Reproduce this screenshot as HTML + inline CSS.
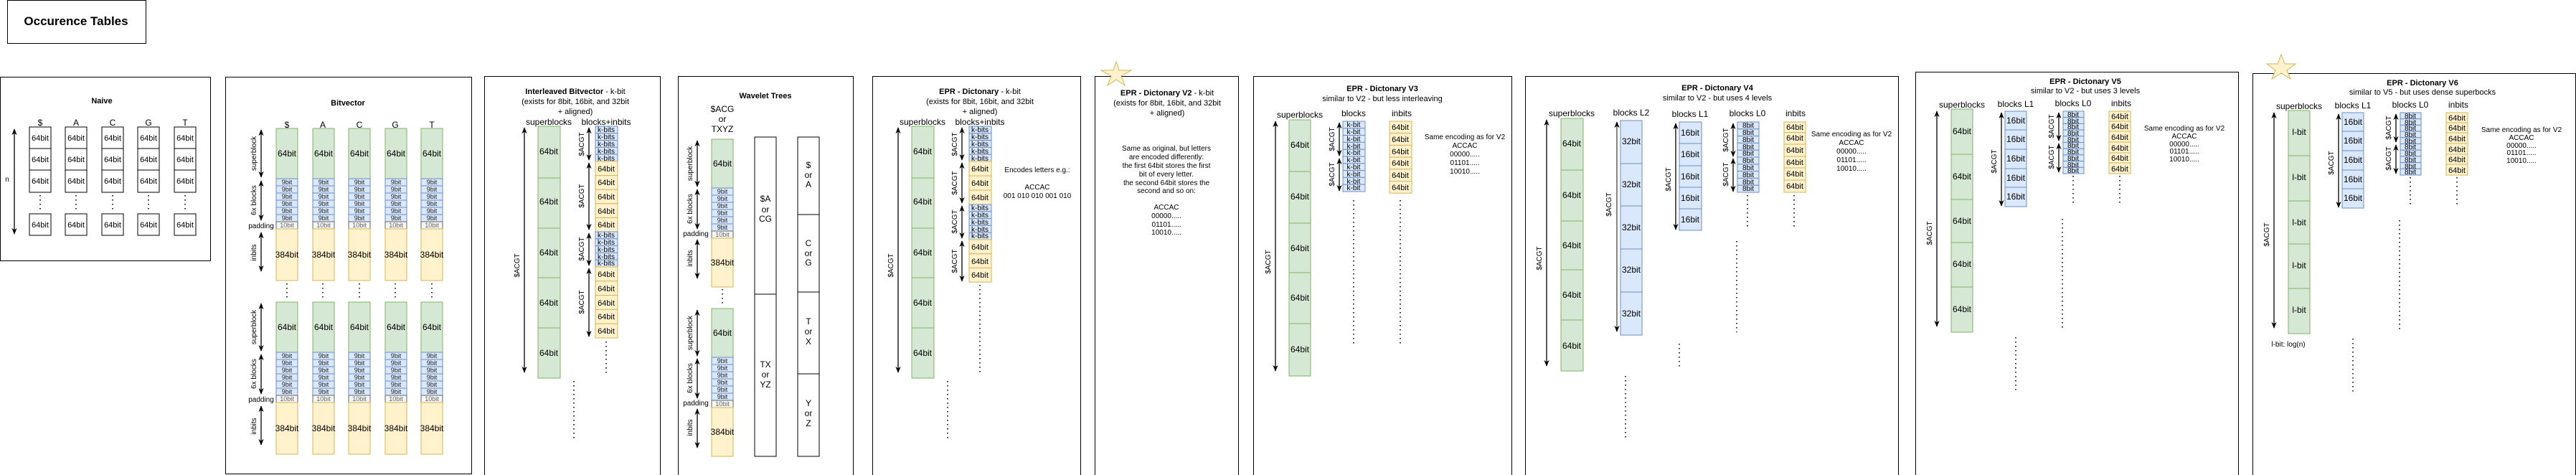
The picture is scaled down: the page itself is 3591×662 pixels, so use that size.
<!DOCTYPE html>
<html><head><meta charset="utf-8"><style>
html,body{margin:0;padding:0;background:#fff;}
svg{display:block;font-family:"Liberation Sans",Arial,sans-serif;}
.g{fill:#d5e8d4;stroke:#82b366;stroke-width:1}
.b{fill:#dae8fc;stroke:#6c8ebf;stroke-width:1}
.y{fill:#fff2cc;stroke:#d6b656;stroke-width:1}
.p{fill:#f5f5f5;stroke:#666;stroke-width:1}
.w{fill:#fff;stroke:#000;stroke-width:1}
.pn{fill:#fff;stroke:#000;stroke-width:1}
text{fill:#000;text-anchor:middle;}
.t12{font-size:12px}.t9{font-size:9px;fill:#222}.t10{font-size:10px}.t11{font-size:11px}
.bt{font-size:11px;font-weight:bold}
.ar{stroke:#000;stroke-width:1.3;fill:none;marker-start:url(#ma);marker-end:url(#ma)}
.dt{stroke:#000;stroke-width:1.6;stroke-dasharray:1.5 4.5;fill:none}
</style></head><body>
<svg width="3591" height="662" viewBox="0 0 3591 662" xmlns="http://www.w3.org/2000/svg">
<defs><marker id="ma" viewBox="0 0 10 10" refX="9" refY="5" markerWidth="7" markerHeight="7" orient="auto-start-reverse"><path d="M0,1 L10,5 L0,9 L3,5 z" fill="#000"/></marker></defs>

<!-- title -->
<rect x="10.5" y="0.5" width="193" height="60" class="pn"/>
<text x="106" y="35" style="font-size:17px;font-weight:bold">Occurence Tables</text>

<!-- NAIVE -->
<rect x="0.5" y="107.5" width="293" height="256" class="pn"/>
<text x="142" y="144" class="bt">Naive</text>
<line x1="20" y1="180" x2="20" y2="326" class="ar"/>
<text x="10" y="253" class="t10">n</text>
<g class="t12">
<text x="56" y="175">$</text><text x="106" y="175">A</text><text x="157" y="175">C</text><text x="207" y="175">G</text><text x="258" y="175">T</text>
</g>
<g>
<rect x="41" y="177" width="30" height="30" class="w"/><rect x="41" y="207" width="30" height="30" class="w"/><rect x="41" y="237" width="30" height="31" class="w"/><rect x="41" y="298" width="30" height="30" class="w"/>
<rect x="91" y="177" width="30" height="30" class="w"/><rect x="91" y="207" width="30" height="30" class="w"/><rect x="91" y="237" width="30" height="31" class="w"/><rect x="91" y="298" width="30" height="30" class="w"/>
<rect x="142" y="177" width="30" height="30" class="w"/><rect x="142" y="207" width="30" height="30" class="w"/><rect x="142" y="237" width="30" height="31" class="w"/><rect x="142" y="298" width="30" height="30" class="w"/>
<rect x="192" y="177" width="30" height="30" class="w"/><rect x="192" y="207" width="30" height="30" class="w"/><rect x="192" y="237" width="30" height="31" class="w"/><rect x="192" y="298" width="30" height="30" class="w"/>
<rect x="243" y="177" width="30" height="30" class="w"/><rect x="243" y="207" width="30" height="30" class="w"/><rect x="243" y="237" width="30" height="31" class="w"/><rect x="243" y="298" width="30" height="30" class="w"/>
</g>
<g class="t11">
<text x="56" y="196">64bit</text><text x="56" y="226">64bit</text><text x="56" y="256">64bit</text><text x="56" y="317">64bit</text>
<text x="106" y="196">64bit</text><text x="106" y="226">64bit</text><text x="106" y="256">64bit</text><text x="106" y="317">64bit</text>
<text x="157" y="196">64bit</text><text x="157" y="226">64bit</text><text x="157" y="256">64bit</text><text x="157" y="317">64bit</text>
<text x="207" y="196">64bit</text><text x="207" y="226">64bit</text><text x="207" y="256">64bit</text><text x="207" y="317">64bit</text>
<text x="258" y="196">64bit</text><text x="258" y="226">64bit</text><text x="258" y="256">64bit</text><text x="258" y="317">64bit</text>
</g>
<path d="M56,272V296M106,272V296M157,272V296M207,272V296M258,272V296" class="dt"/>

<!-- BITVECTOR -->
<rect x="314.5" y="107.5" width="343" height="553" class="pn"/>
<text x="485" y="147" class="bt">Bitvector</text>
<g class="t12"><text x="400" y="178">$</text><text x="450" y="178">A</text><text x="501" y="178">C</text><text x="551" y="178">G</text><text x="602" y="178">T</text></g>
<g id="bvlab">
<line x1="364" y1="181" x2="364" y2="247" class="ar"/><text transform="translate(357,214) rotate(-90)" class="t10">superblock</text>
<line x1="364" y1="252" x2="364" y2="307" class="ar"/><text transform="translate(357,279) rotate(-90)" class="t10">6x blocks</text>
<text x="364" y="318" class="t10">padding</text>
<line x1="364" y1="324" x2="364" y2="378" class="ar"/><text transform="translate(357,352) rotate(-90)" class="t10">inbits</text>
<line x1="364" y1="423" x2="364" y2="489" class="ar"/><text transform="translate(357,456) rotate(-90)" class="t10">superblock</text>
<line x1="364" y1="494" x2="364" y2="549" class="ar"/><text transform="translate(357,521) rotate(-90)" class="t10">6x blocks</text>
<text x="364" y="560" class="t10">padding</text>
<line x1="364" y1="566" x2="364" y2="620" class="ar"/><text transform="translate(357,594) rotate(-90)" class="t10">inbits</text>
</g>
<!-- column groups -->
<g transform="translate(385,179)"><rect class="g" width="30" height="70"/><text x="15" y="39" class="t12">64bit</text><rect class="b" y="70" width="30" height="10"/><rect class="b" y="80" width="30" height="10"/><rect class="b" y="90" width="30" height="10"/><rect class="b" y="100" width="30" height="10"/><rect class="b" y="110" width="30" height="10"/><rect class="b" y="120" width="30" height="10"/><rect class="p" y="130" width="30" height="10"/><rect class="y" y="140" width="30" height="72"/><text x="15" y="78" class="t9">9bit</text><text x="15" y="88" class="t9">9bit</text><text x="15" y="98" class="t9">9bit</text><text x="15" y="108" class="t9">9bit</text><text x="15" y="118" class="t9">9bit</text><text x="15" y="128" class="t9">9bit</text><text x="15" y="138" class="t9" style="fill:#666">10bit</text><text x="15" y="180" class="t12">384bit</text></g>
<g transform="translate(436,179)"><rect class="g" width="30" height="70"/><text x="15" y="39" class="t12">64bit</text><rect class="b" y="70" width="30" height="10"/><rect class="b" y="80" width="30" height="10"/><rect class="b" y="90" width="30" height="10"/><rect class="b" y="100" width="30" height="10"/><rect class="b" y="110" width="30" height="10"/><rect class="b" y="120" width="30" height="10"/><rect class="p" y="130" width="30" height="10"/><rect class="y" y="140" width="30" height="72"/><text x="15" y="78" class="t9">9bit</text><text x="15" y="88" class="t9">9bit</text><text x="15" y="98" class="t9">9bit</text><text x="15" y="108" class="t9">9bit</text><text x="15" y="118" class="t9">9bit</text><text x="15" y="128" class="t9">9bit</text><text x="15" y="138" class="t9" style="fill:#666">10bit</text><text x="15" y="180" class="t12">384bit</text></g>
<g transform="translate(486,179)"><rect class="g" width="30" height="70"/><text x="15" y="39" class="t12">64bit</text><rect class="b" y="70" width="30" height="10"/><rect class="b" y="80" width="30" height="10"/><rect class="b" y="90" width="30" height="10"/><rect class="b" y="100" width="30" height="10"/><rect class="b" y="110" width="30" height="10"/><rect class="b" y="120" width="30" height="10"/><rect class="p" y="130" width="30" height="10"/><rect class="y" y="140" width="30" height="72"/><text x="15" y="78" class="t9">9bit</text><text x="15" y="88" class="t9">9bit</text><text x="15" y="98" class="t9">9bit</text><text x="15" y="108" class="t9">9bit</text><text x="15" y="118" class="t9">9bit</text><text x="15" y="128" class="t9">9bit</text><text x="15" y="138" class="t9" style="fill:#666">10bit</text><text x="15" y="180" class="t12">384bit</text></g>
<g transform="translate(537,179)"><rect class="g" width="30" height="70"/><text x="15" y="39" class="t12">64bit</text><rect class="b" y="70" width="30" height="10"/><rect class="b" y="80" width="30" height="10"/><rect class="b" y="90" width="30" height="10"/><rect class="b" y="100" width="30" height="10"/><rect class="b" y="110" width="30" height="10"/><rect class="b" y="120" width="30" height="10"/><rect class="p" y="130" width="30" height="10"/><rect class="y" y="140" width="30" height="72"/><text x="15" y="78" class="t9">9bit</text><text x="15" y="88" class="t9">9bit</text><text x="15" y="98" class="t9">9bit</text><text x="15" y="108" class="t9">9bit</text><text x="15" y="118" class="t9">9bit</text><text x="15" y="128" class="t9">9bit</text><text x="15" y="138" class="t9" style="fill:#666">10bit</text><text x="15" y="180" class="t12">384bit</text></g>
<g transform="translate(587,179)"><rect class="g" width="30" height="70"/><text x="15" y="39" class="t12">64bit</text><rect class="b" y="70" width="30" height="10"/><rect class="b" y="80" width="30" height="10"/><rect class="b" y="90" width="30" height="10"/><rect class="b" y="100" width="30" height="10"/><rect class="b" y="110" width="30" height="10"/><rect class="b" y="120" width="30" height="10"/><rect class="p" y="130" width="30" height="10"/><rect class="y" y="140" width="30" height="72"/><text x="15" y="78" class="t9">9bit</text><text x="15" y="88" class="t9">9bit</text><text x="15" y="98" class="t9">9bit</text><text x="15" y="108" class="t9">9bit</text><text x="15" y="118" class="t9">9bit</text><text x="15" y="128" class="t9">9bit</text><text x="15" y="138" class="t9" style="fill:#666">10bit</text><text x="15" y="180" class="t12">384bit</text></g>
<g transform="translate(385,421)"><rect class="g" width="30" height="70"/><text x="15" y="39" class="t12">64bit</text><rect class="b" y="70" width="30" height="10"/><rect class="b" y="80" width="30" height="10"/><rect class="b" y="90" width="30" height="10"/><rect class="b" y="100" width="30" height="10"/><rect class="b" y="110" width="30" height="10"/><rect class="b" y="120" width="30" height="10"/><rect class="p" y="130" width="30" height="10"/><rect class="y" y="140" width="30" height="72"/><text x="15" y="78" class="t9">9bit</text><text x="15" y="88" class="t9">9bit</text><text x="15" y="98" class="t9">9bit</text><text x="15" y="108" class="t9">9bit</text><text x="15" y="118" class="t9">9bit</text><text x="15" y="128" class="t9">9bit</text><text x="15" y="138" class="t9" style="fill:#666">10bit</text><text x="15" y="180" class="t12">384bit</text></g>
<g transform="translate(436,421)"><rect class="g" width="30" height="70"/><text x="15" y="39" class="t12">64bit</text><rect class="b" y="70" width="30" height="10"/><rect class="b" y="80" width="30" height="10"/><rect class="b" y="90" width="30" height="10"/><rect class="b" y="100" width="30" height="10"/><rect class="b" y="110" width="30" height="10"/><rect class="b" y="120" width="30" height="10"/><rect class="p" y="130" width="30" height="10"/><rect class="y" y="140" width="30" height="72"/><text x="15" y="78" class="t9">9bit</text><text x="15" y="88" class="t9">9bit</text><text x="15" y="98" class="t9">9bit</text><text x="15" y="108" class="t9">9bit</text><text x="15" y="118" class="t9">9bit</text><text x="15" y="128" class="t9">9bit</text><text x="15" y="138" class="t9" style="fill:#666">10bit</text><text x="15" y="180" class="t12">384bit</text></g>
<g transform="translate(486,421)"><rect class="g" width="30" height="70"/><text x="15" y="39" class="t12">64bit</text><rect class="b" y="70" width="30" height="10"/><rect class="b" y="80" width="30" height="10"/><rect class="b" y="90" width="30" height="10"/><rect class="b" y="100" width="30" height="10"/><rect class="b" y="110" width="30" height="10"/><rect class="b" y="120" width="30" height="10"/><rect class="p" y="130" width="30" height="10"/><rect class="y" y="140" width="30" height="72"/><text x="15" y="78" class="t9">9bit</text><text x="15" y="88" class="t9">9bit</text><text x="15" y="98" class="t9">9bit</text><text x="15" y="108" class="t9">9bit</text><text x="15" y="118" class="t9">9bit</text><text x="15" y="128" class="t9">9bit</text><text x="15" y="138" class="t9" style="fill:#666">10bit</text><text x="15" y="180" class="t12">384bit</text></g>
<g transform="translate(537,421)"><rect class="g" width="30" height="70"/><text x="15" y="39" class="t12">64bit</text><rect class="b" y="70" width="30" height="10"/><rect class="b" y="80" width="30" height="10"/><rect class="b" y="90" width="30" height="10"/><rect class="b" y="100" width="30" height="10"/><rect class="b" y="110" width="30" height="10"/><rect class="b" y="120" width="30" height="10"/><rect class="p" y="130" width="30" height="10"/><rect class="y" y="140" width="30" height="72"/><text x="15" y="78" class="t9">9bit</text><text x="15" y="88" class="t9">9bit</text><text x="15" y="98" class="t9">9bit</text><text x="15" y="108" class="t9">9bit</text><text x="15" y="118" class="t9">9bit</text><text x="15" y="128" class="t9">9bit</text><text x="15" y="138" class="t9" style="fill:#666">10bit</text><text x="15" y="180" class="t12">384bit</text></g>
<g transform="translate(587,421)"><rect class="g" width="30" height="70"/><text x="15" y="39" class="t12">64bit</text><rect class="b" y="70" width="30" height="10"/><rect class="b" y="80" width="30" height="10"/><rect class="b" y="90" width="30" height="10"/><rect class="b" y="100" width="30" height="10"/><rect class="b" y="110" width="30" height="10"/><rect class="b" y="120" width="30" height="10"/><rect class="p" y="130" width="30" height="10"/><rect class="y" y="140" width="30" height="72"/><text x="15" y="78" class="t9">9bit</text><text x="15" y="88" class="t9">9bit</text><text x="15" y="98" class="t9">9bit</text><text x="15" y="108" class="t9">9bit</text><text x="15" y="118" class="t9">9bit</text><text x="15" y="128" class="t9">9bit</text><text x="15" y="138" class="t9" style="fill:#666">10bit</text><text x="15" y="180" class="t12">384bit</text></g>
<path d="M400,395V418M450,395V418M501,395V418M551,395V418M602,395V418" class="dt"/>

<!-- INTERLEAVED -->
<rect x="675.5" y="106.5" width="245" height="560" class="pn"/>
<text x="802" y="131" class="t11"><tspan font-weight="bold">Interleaved Bitvector</tspan> - k-bit</text>
<text x="802" y="145" class="t11">(exists for 8bit, 16bit, and 32bit</text>
<text x="802" y="159" class="t11">+ aligned)</text>
<text x="765" y="174" class="t12">superblocks</text><text x="845" y="174" class="t12">blocks+inbits</text>
<rect class="g" x="750" y="176" width="31" height="72"/><rect class="g" x="750" y="248" width="31" height="70"/><rect class="g" x="750" y="318" width="31" height="69"/><rect class="g" x="750" y="387" width="31" height="70"/><rect class="g" x="750" y="457" width="31" height="70"/>
<g class="t12"><text x="765" y="215">64bit</text><text x="765" y="285">64bit</text><text x="765" y="356">64bit</text><text x="765" y="426">64bit</text><text x="765" y="496">64bit</text></g>
<line x1="731" y1="178" x2="731" y2="519" class="ar"/><text transform="translate(724,370) rotate(-90)" class="t10">$ACGT</text>
<path d="M800,531V612" class="dt"/>
<g id="il">
<rect class="b" x="830" y="176" width="31" height="9.8"/><rect class="b" x="830" y="185.8" width="31" height="9.8"/><rect class="b" x="830" y="195.6" width="31" height="9.8"/><rect class="b" x="830" y="205.4" width="31" height="9.8"/><rect class="b" x="830" y="215.2" width="31" height="9.8"/>
<rect class="y" x="830" y="225" width="31" height="19.6"/><rect class="y" x="830" y="244.6" width="31" height="19.6"/><rect class="y" x="830" y="264.2" width="31" height="19.6"/><rect class="y" x="830" y="283.8" width="31" height="19.6"/><rect class="y" x="830" y="303.4" width="31" height="19.6"/>
<rect class="b" x="830" y="323" width="31" height="9.8"/><rect class="b" x="830" y="332.8" width="31" height="9.8"/><rect class="b" x="830" y="342.6" width="31" height="9.8"/><rect class="b" x="830" y="352.4" width="31" height="9.8"/><rect class="b" x="830" y="362.2" width="31" height="9.8"/>
<rect class="y" x="830" y="372" width="31" height="19.8"/><rect class="y" x="830" y="391.8" width="31" height="19.8"/><rect class="y" x="830" y="411.6" width="31" height="19.8"/><rect class="y" x="830" y="431.4" width="31" height="19.8"/><rect class="y" x="830" y="451.2" width="31" height="19.8"/>
</g>
<g class="t10"><text x="845" y="184">k-bits</text><text x="845" y="194">k-bits</text><text x="845" y="204">k-bits</text><text x="845" y="214">k-bits</text><text x="845" y="224">k-bits</text>
<text x="845" y="331">k-bits</text><text x="845" y="341">k-bits</text><text x="845" y="351">k-bits</text><text x="845" y="361">k-bits</text><text x="845" y="370">k-bits</text></g>
<g class="t11"><text x="845" y="239">64bit</text><text x="845" y="258">64bit</text><text x="845" y="278">64bit</text><text x="845" y="298">64bit</text><text x="845" y="317">64bit</text>
<text x="845" y="386">64bit</text><text x="845" y="406">64bit</text><text x="845" y="426">64bit</text><text x="845" y="445">64bit</text><text x="845" y="465">64bit</text></g>
<line x1="821" y1="178" x2="821" y2="223" class="ar"/><line x1="821" y1="227" x2="821" y2="320" class="ar"/><line x1="821" y1="325" x2="821" y2="370" class="ar"/><line x1="821" y1="374" x2="821" y2="469" class="ar"/>
<g class="t10"><text transform="translate(814,201) rotate(-90)">$ACGT</text><text transform="translate(814,273) rotate(-90)">$ACGT</text><text transform="translate(814,347) rotate(-90)">$ACGT</text><text transform="translate(814,421) rotate(-90)">$ACGT</text></g>
<path d="M845,476V522" class="dt"/>

<!-- WAVELET -->
<rect x="945.5" y="106.5" width="244" height="560" class="pn"/>
<text x="1067" y="137" class="bt">Wavelet Trees</text>
<g class="t12"><text x="1007" y="156">$ACG</text><text x="1007" y="170">or</text><text x="1007" y="184">TXYZ</text></g>
<g transform="translate(992,194)"><rect class="g" width="30" height="68"/><text x="15" y="38" class="t12">64bit</text><rect class="b" y="68" width="30" height="10"/><rect class="b" y="78" width="30" height="10"/><rect class="b" y="88" width="30" height="10"/><rect class="b" y="98" width="30" height="10"/><rect class="b" y="108" width="30" height="10"/><rect class="b" y="118" width="30" height="10"/><rect class="p" y="128" width="30" height="10"/><rect class="y" y="138" width="30" height="68"/><text x="15" y="76" class="t9">9bit</text><text x="15" y="86" class="t9">9bit</text><text x="15" y="96" class="t9">9bit</text><text x="15" y="106" class="t9">9bit</text><text x="15" y="116" class="t9">9bit</text><text x="15" y="126" class="t9">9bit</text><text x="15" y="136" class="t9" style="fill:#666">10bit</text><text x="15" y="176" class="t12">384bit</text></g>
<g transform="translate(992,430)"><rect class="g" width="30" height="68"/><text x="15" y="38" class="t12">64bit</text><rect class="b" y="68" width="30" height="10"/><rect class="b" y="78" width="30" height="10"/><rect class="b" y="88" width="30" height="10"/><rect class="b" y="98" width="30" height="10"/><rect class="b" y="108" width="30" height="10"/><rect class="b" y="118" width="30" height="10"/><rect class="p" y="128" width="30" height="10"/><rect class="y" y="138" width="30" height="68"/><text x="15" y="76" class="t9">9bit</text><text x="15" y="86" class="t9">9bit</text><text x="15" y="96" class="t9">9bit</text><text x="15" y="106" class="t9">9bit</text><text x="15" y="116" class="t9">9bit</text><text x="15" y="126" class="t9">9bit</text><text x="15" y="136" class="t9" style="fill:#666">10bit</text><text x="15" y="176" class="t12">384bit</text></g>
<line x1="972" y1="196" x2="972" y2="260" class="ar"/><text transform="translate(965,228) rotate(-90)" class="t10">superblock</text>
<line x1="972" y1="264" x2="972" y2="319" class="ar"/><text transform="translate(965,291) rotate(-90)" class="t10">6x blocks</text>
<text x="970" y="329" class="t10">padding</text>
<line x1="972" y1="334" x2="972" y2="388" class="ar"/><text transform="translate(965,360) rotate(-90)" class="t10">inbits</text>
<line x1="972" y1="432" x2="972" y2="496" class="ar"/><text transform="translate(965,464) rotate(-90)" class="t10">superblock</text>
<line x1="972" y1="500" x2="972" y2="555" class="ar"/><text transform="translate(965,527) rotate(-90)" class="t10">6x blocks</text>
<text x="970" y="565" class="t10">padding</text>
<line x1="972" y1="570" x2="972" y2="624" class="ar"/><text transform="translate(965,596) rotate(-90)" class="t10">inbits</text>
<path d="M1007,403V427" class="dt"/>
<rect class="w" x="1052" y="191" width="30" height="219"/><rect class="w" x="1052" y="410" width="30" height="226"/>
<g class="t12"><text x="1067" y="281">$A</text><text x="1067" y="296">or</text><text x="1067" y="309">CG</text><text x="1067" y="512">TX</text><text x="1067" y="526">or</text><text x="1067" y="540">YZ</text></g>
<rect class="w" x="1112" y="191" width="30" height="108"/><rect class="w" x="1112" y="299" width="30" height="108"/><rect class="w" x="1112" y="407" width="30" height="114"/><rect class="w" x="1112" y="521" width="30" height="115"/>
<g class="t12"><text x="1127" y="234">$</text><text x="1127" y="248">or</text><text x="1127" y="261">A</text><text x="1127" y="343">C</text><text x="1127" y="357">or</text><text x="1127" y="370">G</text><text x="1127" y="452">T</text><text x="1127" y="466">or</text><text x="1127" y="480">X</text><text x="1127" y="566">Y</text><text x="1127" y="580">or</text><text x="1127" y="594">Z</text></g>

<!-- EPR -->
<rect x="1216.5" y="106.5" width="290" height="560" class="pn"/>
<text x="1366" y="131" class="t11"><tspan font-weight="bold">EPR - Dictonary</tspan> - k-bit</text>
<text x="1366" y="145" class="t11">(exists for 8bit, 16bit, and 32bit</text>
<text x="1366" y="159" class="t11">+ aligned)</text>
<text x="1286" y="174" class="t12">superblocks</text><text x="1366" y="174" class="t12">blocks+inbits</text>
<rect class="g" x="1271" y="176" width="31" height="72"/><rect class="g" x="1271" y="248" width="31" height="70"/><rect class="g" x="1271" y="318" width="31" height="69"/><rect class="g" x="1271" y="387" width="31" height="70"/><rect class="g" x="1271" y="457" width="31" height="70"/>
<g class="t12"><text x="1286" y="215">64bit</text><text x="1286" y="285">64bit</text><text x="1286" y="356">64bit</text><text x="1286" y="426">64bit</text><text x="1286" y="496">64bit</text></g>
<line x1="1252" y1="178" x2="1252" y2="519" class="ar"/><text transform="translate(1245,370) rotate(-90)" class="t10">$ACGT</text>
<path d="M1321,531V612" class="dt"/>
<rect class="b" x="1351" y="176" width="31" height="9.8"/><rect class="b" x="1351" y="185.8" width="31" height="9.8"/><rect class="b" x="1351" y="195.6" width="31" height="9.8"/><rect class="b" x="1351" y="205.4" width="31" height="9.8"/><rect class="b" x="1351" y="215.2" width="31" height="9.8"/>
<rect class="y" x="1351" y="225" width="31" height="20"/><rect class="y" x="1351" y="245" width="31" height="20"/><rect class="y" x="1351" y="265" width="31" height="20"/>
<rect class="b" x="1351" y="285" width="31" height="9.8"/><rect class="b" x="1351" y="294.8" width="31" height="9.8"/><rect class="b" x="1351" y="304.6" width="31" height="9.8"/><rect class="b" x="1351" y="314.4" width="31" height="9.8"/><rect class="b" x="1351" y="324.2" width="31" height="9.8"/>
<rect class="y" x="1351" y="334" width="31" height="19.7"/><rect class="y" x="1351" y="353.7" width="31" height="19.7"/><rect class="y" x="1351" y="373.4" width="31" height="19.7"/>
<g class="t10"><text x="1366" y="184">k-bits</text><text x="1366" y="194">k-bits</text><text x="1366" y="204">k-bits</text><text x="1366" y="214">k-bits</text><text x="1366" y="224">k-bits</text>
<text x="1366" y="293">k-bits</text><text x="1366" y="303">k-bits</text><text x="1366" y="313">k-bits</text><text x="1366" y="323">k-bits</text><text x="1366" y="332">k-bits</text></g>
<g class="t11"><text x="1366" y="239">64bit</text><text x="1366" y="259">64bit</text><text x="1366" y="279">64bit</text><text x="1366" y="348">64bit</text><text x="1366" y="368">64bit</text><text x="1366" y="387">64bit</text></g>
<line x1="1341" y1="178" x2="1341" y2="223" class="ar"/><line x1="1341" y1="227" x2="1341" y2="283" class="ar"/><line x1="1341" y1="287" x2="1341" y2="332" class="ar"/><line x1="1341" y1="336" x2="1341" y2="392" class="ar"/>
<g class="t10"><text transform="translate(1334,201) rotate(-90)">$ACGT</text><text transform="translate(1334,255) rotate(-90)">$ACGT</text><text transform="translate(1334,309) rotate(-90)">$ACGT</text><text transform="translate(1334,364) rotate(-90)">$ACGT</text></g>
<path d="M1366,397V522" class="dt"/>
<g class="t10"><text x="1446" y="240">Encodes letters e.g.:</text><text x="1446" y="264">ACCAC</text><text x="1446" y="276">001 010 010 001 010</text></g>

<!-- V2 -->
<rect x="1526.5" y="106.5" width="200" height="560" class="pn"/>
<polygon points="1556,86 1560,98 1577,98 1563,106 1568,119 1556,111 1544,119 1549,106 1535,98 1552,98" fill="#fff2cc" stroke="#d6b656"/>
<text x="1627" y="133" class="t11"><tspan font-weight="bold">EPR - Dictonary V2</tspan> - k-bit</text>
<text x="1627" y="147" class="t11">(exists for 8bit, 16bit, and 32bit</text>
<text x="1627" y="161" class="t11">+ aligned)</text>
<g class="t10"><text x="1626" y="210">Same as original, but letters</text><text x="1626" y="222">are encoded differently:</text><text x="1626" y="234">the first 64bit stores the first</text><text x="1626" y="246">bit of every letter.</text><text x="1626" y="258">the second 64bit stores the</text><text x="1626" y="269">second and so on:</text>
<text x="1626" y="292">ACCAC</text><text x="1626" y="304">00000.....</text><text x="1626" y="316">01101.....</text><text x="1626" y="327">10010.....</text></g>

<!-- V3 -->
<rect x="1747.5" y="106.5" width="360" height="560" class="pn"/>
<text x="1927" y="127" class="bt">EPR - Dictonary V3</text>
<text x="1927" y="141" class="t11">similar to V2 - but less interleaving</text>
<text x="1812" y="164" class="t12">superblocks</text><text x="1887" y="162" class="t12">blocks</text><text x="1954" y="162" class="t12">inbits</text>
<rect class="g" x="1797" y="167" width="30" height="72"/><rect class="g" x="1797" y="239" width="30" height="72"/><rect class="g" x="1797" y="311" width="30" height="69"/><rect class="g" x="1797" y="380" width="30" height="71"/><rect class="g" x="1797" y="451" width="30" height="73"/>
<g class="t12"><text x="1812" y="206">64bit</text><text x="1812" y="278">64bit</text><text x="1812" y="350">64bit</text><text x="1812" y="419">64bit</text><text x="1812" y="491">64bit</text></g>
<line x1="1778" y1="169" x2="1778" y2="517" class="ar"/><text transform="translate(1771,365) rotate(-90)" class="t10">$ACGT</text>
<rect class="b" x="1872" y="169" width="31" height="9.8"/><rect class="b" x="1872" y="178.8" width="31" height="9.8"/><rect class="b" x="1872" y="188.6" width="31" height="9.8"/><rect class="b" x="1872" y="198.4" width="31" height="9.8"/><rect class="b" x="1872" y="208.2" width="31" height="9.8"/><rect class="b" x="1872" y="218" width="31" height="9.8"/><rect class="b" x="1872" y="227.8" width="31" height="9.8"/><rect class="b" x="1872" y="237.6" width="31" height="9.8"/><rect class="b" x="1872" y="247.4" width="31" height="9.8"/><rect class="b" x="1872" y="257.2" width="31" height="9.8"/>
<g class="t10"><text x="1887" y="177">k-bit</text><text x="1887" y="187">k-bit</text><text x="1887" y="197">k-bit</text><text x="1887" y="207">k-bit</text><text x="1887" y="216">k-bit</text><text x="1887" y="226">k-bit</text><text x="1887" y="236">k-bit</text><text x="1887" y="246">k-bit</text><text x="1887" y="256">k-bit</text><text x="1887" y="265">k-bit</text></g>
<line x1="1867" y1="171" x2="1867" y2="217" class="ar"/><line x1="1867" y1="221" x2="1867" y2="266" class="ar"/>
<g class="t10"><text transform="translate(1860,194) rotate(-90)">$ACGT</text><text transform="translate(1860,243) rotate(-90)">$ACGT</text></g>
<rect class="y" x="1937" y="169" width="31" height="16.7"/><rect class="y" x="1937" y="185.7" width="31" height="16.7"/><rect class="y" x="1937" y="202.4" width="31" height="16.7"/><rect class="y" x="1937" y="219.1" width="31" height="16.7"/><rect class="y" x="1937" y="235.8" width="31" height="16.7"/><rect class="y" x="1937" y="252.5" width="31" height="16.7"/>
<g class="t11"><text x="1952" y="181">64bit</text><text x="1952" y="198">64bit</text><text x="1952" y="215">64bit</text><text x="1952" y="231">64bit</text><text x="1952" y="248">64bit</text><text x="1952" y="265">64bit</text></g>
<path d="M1887,279V481M1952,279V481" class="dt"/>
<g class="t10"><text x="2042" y="194">Same encoding as for V2</text><text x="2042" y="206">ACCAC</text><text x="2042" y="218">00000.....</text><text x="2042" y="230">01101.....</text><text x="2042" y="242">10010.....</text></g>

<!-- V4 -->
<rect x="2126.5" y="106.5" width="520" height="560" class="pn"/>
<text x="2394" y="126" class="bt">EPR - Dictonary V4</text>
<text x="2394" y="140" class="t11">similar to V2 - but uses 4 levels</text>
<text x="2191" y="162" class="t12">superblocks</text><text x="2274" y="161" class="t12">blocks L2</text><text x="2356" y="163" class="t12">blocks L1</text><text x="2436" y="162" class="t12">blocks L0</text><text x="2503" y="162" class="t12">inbits</text>
<rect class="g" x="2176" y="165" width="31" height="72"/><rect class="g" x="2176" y="237" width="31" height="71"/><rect class="g" x="2176" y="308" width="31" height="68"/><rect class="g" x="2176" y="376" width="31" height="70"/><rect class="g" x="2176" y="446" width="31" height="71"/>
<g class="t12"><text x="2191" y="204">64bit</text><text x="2191" y="276">64bit</text><text x="2191" y="346">64bit</text><text x="2191" y="415">64bit</text><text x="2191" y="486">64bit</text></g>
<line x1="2156" y1="167" x2="2156" y2="510" class="ar"/><text transform="translate(2149,360) rotate(-90)" class="t10">$ACGT</text>
<rect class="b" x="2259" y="168" width="30" height="60"/><rect class="b" x="2259" y="228" width="30" height="59"/><rect class="b" x="2259" y="287" width="30" height="60"/><rect class="b" x="2259" y="347" width="30" height="60"/><rect class="b" x="2259" y="407" width="30" height="60"/>
<g class="t12"><text x="2274" y="201">32bit</text><text x="2274" y="261">32bit</text><text x="2274" y="321">32bit</text><text x="2274" y="380">32bit</text><text x="2274" y="441">32bit</text></g>
<line x1="2254" y1="170" x2="2254" y2="462" class="ar" style="stroke:#444"/><text transform="translate(2246,285) rotate(-90)" class="t10">$ACGT</text>
<rect class="b" x="2341" y="170" width="31" height="30"/><rect class="b" x="2341" y="200" width="31" height="31"/><rect class="b" x="2341" y="231" width="31" height="30"/><rect class="b" x="2341" y="261" width="31" height="30"/><rect class="b" x="2341" y="291" width="31" height="30"/>
<g class="t12"><text x="2356" y="189">16bit</text><text x="2356" y="219">16bit</text><text x="2356" y="250">16bit</text><text x="2356" y="280">16bit</text><text x="2356" y="310">16bit</text></g>
<line x1="2336" y1="172" x2="2336" y2="320" class="ar"/><text transform="translate(2329,250) rotate(-90)" class="t10">$ACGT</text>
<rect class="b" x="2422" y="170" width="30" height="9.8"/><rect class="b" x="2422" y="179.8" width="30" height="9.8"/><rect class="b" x="2422" y="189.6" width="30" height="9.8"/><rect class="b" x="2422" y="199.4" width="30" height="9.8"/><rect class="b" x="2422" y="209.2" width="30" height="9.8"/><rect class="b" x="2422" y="219" width="30" height="9.8"/><rect class="b" x="2422" y="228.8" width="30" height="9.8"/><rect class="b" x="2422" y="238.6" width="30" height="9.8"/><rect class="b" x="2422" y="248.4" width="30" height="9.8"/><rect class="b" x="2422" y="258.2" width="30" height="9.8"/>
<g class="t10"><text x="2437" y="178">8bit</text><text x="2437" y="188">8bit</text><text x="2437" y="198">8bit</text><text x="2437" y="208">8bit</text><text x="2437" y="217">8bit</text><text x="2437" y="227">8bit</text><text x="2437" y="237">8bit</text><text x="2437" y="247">8bit</text><text x="2437" y="257">8bit</text><text x="2437" y="266">8bit</text></g>
<line x1="2416" y1="172" x2="2416" y2="218" class="ar"/><line x1="2416" y1="221" x2="2416" y2="267" class="ar"/>
<g class="t10"><text transform="translate(2409,195) rotate(-90)">$ACGT</text><text transform="translate(2409,243) rotate(-90)">$ACGT</text></g>
<rect class="y" x="2487" y="170" width="30" height="14.7"/><rect class="y" x="2487" y="184.7" width="30" height="16.3"/><rect class="y" x="2487" y="201" width="30" height="17"/><rect class="y" x="2487" y="218" width="30" height="16"/><rect class="y" x="2487" y="234" width="30" height="17"/><rect class="y" x="2487" y="251" width="30" height="17"/>
<g class="t11"><text x="2502" y="181">64bit</text><text x="2502" y="196">64bit</text><text x="2502" y="213">64bit</text><text x="2502" y="230">64bit</text><text x="2502" y="246">64bit</text><text x="2502" y="263">64bit</text></g>
<path d="M2436,272V320M2501,272V320M2421,336V463M2341,479V512M2266,524V612" class="dt"/>
<g class="t10"><text x="2581" y="190">Same encoding as for V2</text><text x="2581" y="202">ACCAC</text><text x="2581" y="214">00000.....</text><text x="2581" y="226">01101.....</text><text x="2581" y="238">10010.....</text></g>

<!-- V5 -->
<rect x="2670.5" y="100.5" width="450" height="566" class="pn"/>
<text x="2907" y="117" class="bt">EPR - Dictonary V5</text>
<text x="2907" y="130" class="t11">similar to V2 - but uses 3 levels</text>
<text x="2735" y="150" class="t12">superblocks</text><text x="2810" y="149" class="t12">blocks L1</text><text x="2890" y="148" class="t12">blocks L0</text><text x="2957" y="148" class="t12">inbits</text>
<rect class="g" x="2720" y="152" width="30" height="63"/><rect class="g" x="2720" y="215" width="30" height="63"/><rect class="g" x="2720" y="278" width="30" height="60"/><rect class="g" x="2720" y="338" width="30" height="62"/><rect class="g" x="2720" y="400" width="30" height="63"/>
<g class="t12"><text x="2735" y="187">64bit</text><text x="2735" y="250">64bit</text><text x="2735" y="312">64bit</text><text x="2735" y="372">64bit</text><text x="2735" y="435">64bit</text></g>
<line x1="2700" y1="155" x2="2700" y2="455" class="ar"/><text transform="translate(2693,325) rotate(-90)" class="t10">$ACGT</text>
<rect class="b" x="2795" y="155" width="30" height="26"/><rect class="b" x="2795" y="181" width="30" height="27"/><rect class="b" x="2795" y="208" width="30" height="27"/><rect class="b" x="2795" y="235" width="30" height="26"/><rect class="b" x="2795" y="261" width="30" height="27"/>
<g class="t12"><text x="2810" y="172">16bit</text><text x="2810" y="198">16bit</text><text x="2810" y="225">16bit</text><text x="2810" y="252">16bit</text><text x="2810" y="278">16bit</text></g>
<line x1="2790" y1="157" x2="2790" y2="287" class="ar"/><text transform="translate(2783,225) rotate(-90)" class="t10">$ACGT</text>
<rect class="b" x="2876" y="155" width="29" height="8.7"/><rect class="b" x="2876" y="163.7" width="29" height="8.7"/><rect class="b" x="2876" y="172.4" width="29" height="8.7"/><rect class="b" x="2876" y="181.1" width="29" height="8.7"/><rect class="b" x="2876" y="189.8" width="29" height="8.7"/><rect class="b" x="2876" y="198.5" width="29" height="8.7"/><rect class="b" x="2876" y="207.2" width="29" height="8.7"/><rect class="b" x="2876" y="215.9" width="29" height="8.7"/><rect class="b" x="2876" y="224.6" width="29" height="8.7"/><rect class="b" x="2876" y="233.3" width="29" height="8.7"/>
<g class="t10"><text x="2890" y="163">8bit</text><text x="2890" y="172">8bit</text><text x="2890" y="180">8bit</text><text x="2890" y="189">8bit</text><text x="2890" y="198">8bit</text><text x="2890" y="206">8bit</text><text x="2890" y="215">8bit</text><text x="2890" y="224">8bit</text><text x="2890" y="233">8bit</text><text x="2890" y="241">8bit</text></g>
<line x1="2870" y1="157" x2="2870" y2="196" class="ar"/><line x1="2870" y1="200" x2="2870" y2="240" class="ar"/>
<g class="t10"><text transform="translate(2863,176) rotate(-90)">$ACGT</text><text transform="translate(2863,219) rotate(-90)">$ACGT</text></g>
<rect class="y" x="2940" y="155" width="30" height="14"/><rect class="y" x="2940" y="169" width="30" height="14"/><rect class="y" x="2940" y="183" width="30" height="15"/><rect class="y" x="2940" y="198" width="30" height="15"/><rect class="y" x="2940" y="213" width="30" height="14"/><rect class="y" x="2940" y="227" width="30" height="15"/>
<g class="t11"><text x="2955" y="166">64bit</text><text x="2955" y="180">64bit</text><text x="2955" y="195">64bit</text><text x="2955" y="210">64bit</text><text x="2955" y="224">64bit</text><text x="2955" y="239">64bit</text></g>
<path d="M2890,245V287M2955,245V287M2875,305V460M2810,470V548" class="dt"/>
<g class="t10"><text x="3045" y="182">Same encoding as for V2</text><text x="3045" y="193">ACCAC</text><text x="3045" y="204">00000.....</text><text x="3045" y="214">01101.....</text><text x="3045" y="225">10010.....</text></g>

<!-- V6 -->
<rect x="3140.5" y="102.5" width="450" height="564" class="pn"/>
<polygon points="3180,76 3185,89 3200,89 3188,98 3193,110 3180,102 3167,110 3172,98 3160,89 3175,89" fill="#fff2cc" stroke="#d6b656"/>
<text x="3377" y="119" class="bt">EPR - Dictonary V6</text>
<text x="3377" y="132" class="t11">similar to V5 - but uses dense superbocks</text>
<text x="3205" y="152" class="t12">superblocks</text><text x="3280" y="151" class="t12">blocks L1</text><text x="3360" y="150" class="t12">blocks L0</text><text x="3427" y="150" class="t12">inbits</text>
<rect class="g" x="3190" y="154" width="30" height="63"/><rect class="g" x="3190" y="217" width="30" height="63"/><rect class="g" x="3190" y="280" width="30" height="60"/><rect class="g" x="3190" y="340" width="30" height="62"/><rect class="g" x="3190" y="402" width="30" height="63"/>
<g class="t12"><text x="3205" y="188">l-bit</text><text x="3205" y="251">l-bit</text><text x="3205" y="314">l-bit</text><text x="3205" y="374">l-bit</text><text x="3205" y="436">l-bit</text></g>
<line x1="3170" y1="157" x2="3170" y2="457" class="ar"/><text transform="translate(3163,327) rotate(-90)" class="t10">$ACGT</text>
<text x="3190" y="483" class="t10">l-bit: log(n)</text>
<rect class="b" x="3265" y="157" width="30" height="26"/><rect class="b" x="3265" y="183" width="30" height="27"/><rect class="b" x="3265" y="210" width="30" height="27"/><rect class="b" x="3265" y="237" width="30" height="26"/><rect class="b" x="3265" y="263" width="30" height="27"/>
<g class="t12"><text x="3280" y="174">16bit</text><text x="3280" y="200">16bit</text><text x="3280" y="227">16bit</text><text x="3280" y="254">16bit</text><text x="3280" y="280">16bit</text></g>
<line x1="3260" y1="159" x2="3260" y2="289" class="ar"/><text transform="translate(3253,227) rotate(-90)" class="t10">$ACGT</text>
<rect class="b" x="3346" y="157" width="29" height="8.7"/><rect class="b" x="3346" y="165.7" width="29" height="8.7"/><rect class="b" x="3346" y="174.4" width="29" height="8.7"/><rect class="b" x="3346" y="183.1" width="29" height="8.7"/><rect class="b" x="3346" y="191.8" width="29" height="8.7"/><rect class="b" x="3346" y="200.5" width="29" height="8.7"/><rect class="b" x="3346" y="209.2" width="29" height="8.7"/><rect class="b" x="3346" y="217.9" width="29" height="8.7"/><rect class="b" x="3346" y="226.6" width="29" height="8.7"/><rect class="b" x="3346" y="235.3" width="29" height="8.7"/>
<g class="t10"><text x="3360" y="165">8bit</text><text x="3360" y="174">8bit</text><text x="3360" y="182">8bit</text><text x="3360" y="191">8bit</text><text x="3360" y="200">8bit</text><text x="3360" y="208">8bit</text><text x="3360" y="217">8bit</text><text x="3360" y="226">8bit</text><text x="3360" y="235">8bit</text><text x="3360" y="243">8bit</text></g>
<line x1="3340" y1="159" x2="3340" y2="198" class="ar"/><line x1="3340" y1="202" x2="3340" y2="242" class="ar"/>
<g class="t10"><text transform="translate(3333,178) rotate(-90)">$ACGT</text><text transform="translate(3333,221) rotate(-90)">$ACGT</text></g>
<rect class="y" x="3410" y="157" width="30" height="14"/><rect class="y" x="3410" y="171" width="30" height="14"/><rect class="y" x="3410" y="185" width="30" height="15"/><rect class="y" x="3410" y="200" width="30" height="15"/><rect class="y" x="3410" y="215" width="30" height="14"/><rect class="y" x="3410" y="229" width="30" height="15"/>
<g class="t11"><text x="3425" y="168">64bit</text><text x="3425" y="182">64bit</text><text x="3425" y="197">64bit</text><text x="3425" y="212">64bit</text><text x="3425" y="226">64bit</text><text x="3425" y="241">64bit</text></g>
<path d="M3360,247V289M3425,247V289M3345,307V462M3280,472V550" class="dt"/>
<g class="t10"><text x="3515" y="184">Same encoding as for V2</text><text x="3515" y="195">ACCAC</text><text x="3515" y="206">00000.....</text><text x="3515" y="216">01101.....</text><text x="3515" y="227">10010.....</text></g>
</svg>
</body></html>
